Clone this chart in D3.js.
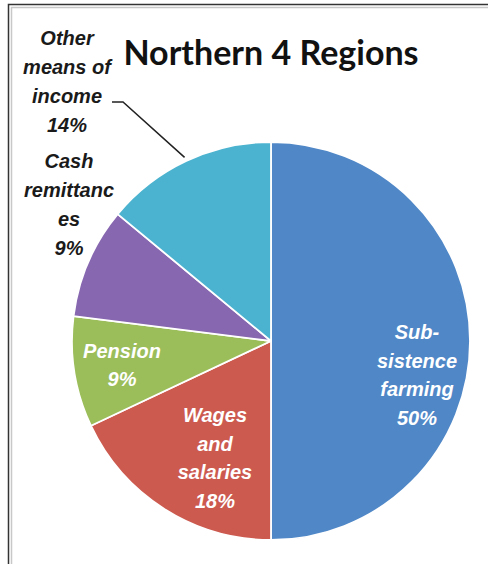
<!DOCTYPE html>
<html>
<head>
<meta charset="utf-8">
<script src="https://cdn.jsdelivr.net/npm/d3@7"></script>
<style>
  html, body { margin: 0; padding: 0; background: #fff; }
  svg { display: block; }
  .lbl { font-family: "Liberation Sans", Arial, sans-serif; font-weight: bold; font-style: italic; font-size: 20px; }
</style>
</head>
<body>
<div id="chart"></div>
<script>
// data
const categories = ["Subsistence farming", "Wages and salaries", "Pension", "Cash remittances", "Other means of income"];
const values = [50, 18, 9, 9, 14];
const labelLines = [
  ["Sub-", "sistence", "farming", "50%"],
  ["Wages", "and", "salaries", "18%"],
  ["Pension", "9%"],
  ["Cash", "remittanc", "es", "9%"],
  ["Other", "means of", "income", "14%"]
];
const colors = ["#4f87c7", "#cc5a4f", "#9bbd5a", "#8767b0", "#4bb3cf"];

const width = 488, height = 564;
const cx = 271, cy = 341, radius = 199;

const svg = d3.select("#chart").append("svg")
  .attr("width", width)
  .attr("height", height);

// frame
svg.append("path")
  .attr("d", "M8.5," + height + "V4.5H" + width)
  .attr("fill", "none").attr("stroke", "#333").attr("stroke-width", 1.5);
svg.append("path")
  .attr("d", "M11.5," + height + "V7.5H" + width)
  .attr("fill", "none").attr("stroke", "#c8c8c8").attr("stroke-width", 1.5);

// title
svg.append("text")
  .attr("x", 271).attr("y", 65)
  .attr("text-anchor", "middle")
  .style("font-family", "Lato, 'Open Sans', sans-serif")
  .style("font-weight", "bold")
  .style("font-size", "34px")
  .attr("fill", "#111")
  .text("Northern 4 Regions");

let pie = d3.pie().sort(null).value(d => d);
let arc = d3.arc().innerRadius(0).outerRadius(radius);
let arcs = pie(values);

let g = svg.append("g").attr("transform", "translate(" + cx + "," + cy + ")");

g.selectAll("path.slice")
  .data(arcs)
  .enter().append("path")
  .attr("class", "slice")
  .attr("d", arc)
  .attr("fill", (d, i) => colors[i])
  .attr("stroke", "#fff")
  .attr("stroke-width", 1.8)
  .attr("stroke-linejoin", "round");

// label anchors (center x, first baseline, line step, fill)
const labelLayout = [
  {x: 417, y: 339, step: 28.5, fill: "#fff"},
  {x: 215, y: 422, step: 28.7, fill: "#fff"},
  {x: 122, y: 358, step: 27.5, fill: "#fff"},
  {x: 69, y: 168, step: 29, fill: "#1a1a1a"},
  {x: 67, y: 45, step: 29, fill: "#1a1a1a"}
];

labelLines.forEach((lines, i) => {
  let L = labelLayout[i];
  let t = svg.append("text")
    .attr("class", "lbl")
    .attr("text-anchor", "middle")
    .attr("fill", L.fill);
  lines.forEach((s, j) => {
    t.append("tspan").attr("x", L.x).attr("y", L.y + j * L.step).text(s);
  });
});

// leader line for "Other means of income"
let otherArc = arcs[4];
let edgeAngle = (otherArc.startAngle + otherArc.endAngle) / 2;
let ex = cx + Math.sin(edgeAngle) * (radius + 4);
let ey = cy - Math.cos(edgeAngle) * (radius + 4);
svg.append("path")
  .attr("d", d3.line()([[112, 102], [123, 102], [ex, ey]]))
  .attr("fill", "none")
  .attr("stroke", "#222")
  .attr("stroke-width", 1.5);
</script>
</body>
</html>
